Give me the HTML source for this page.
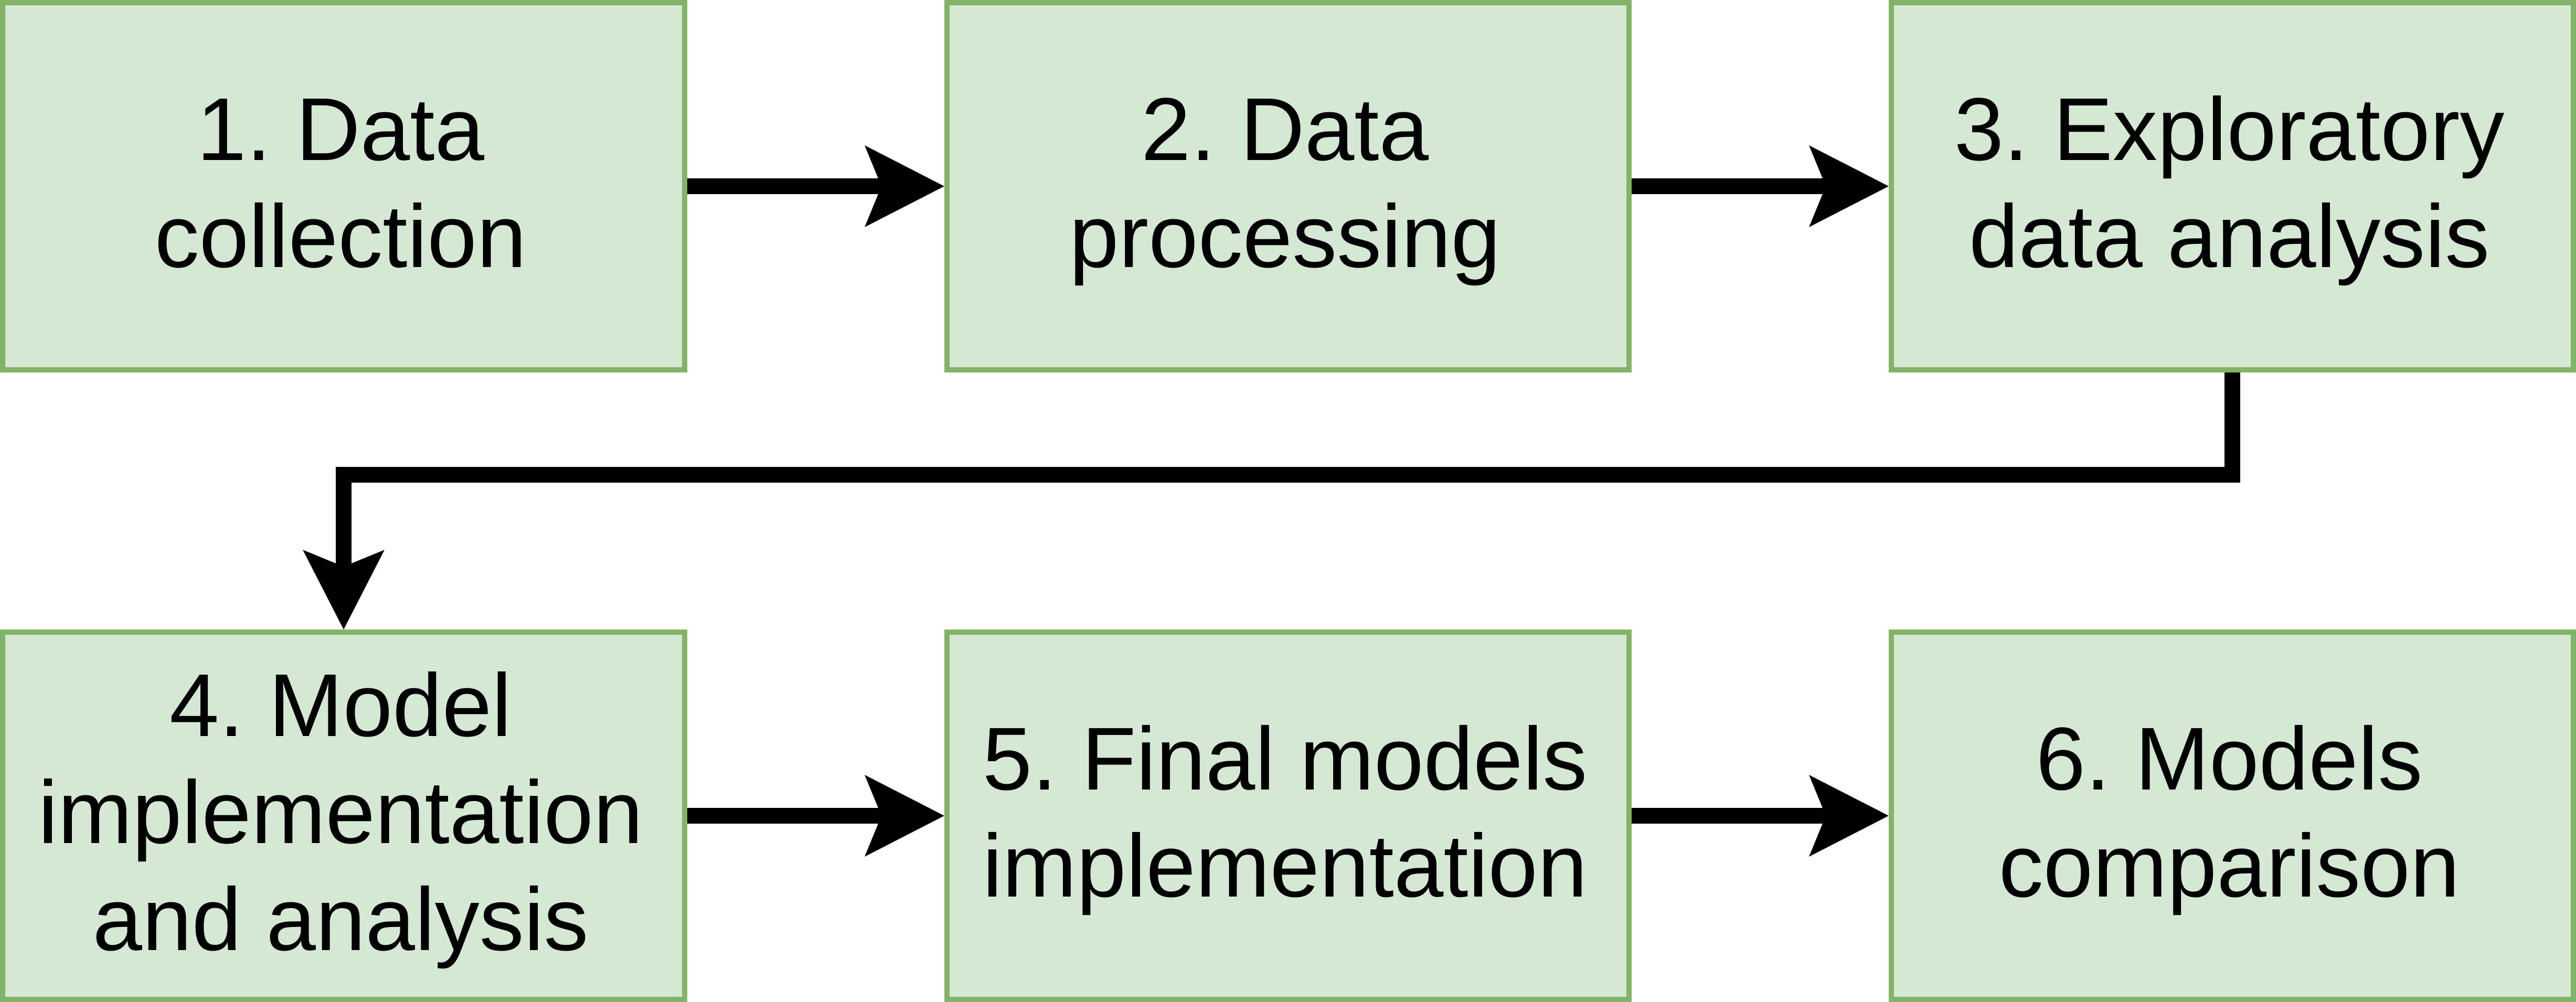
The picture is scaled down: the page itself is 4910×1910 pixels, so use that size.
<!DOCTYPE html>
<html><head><meta charset="utf-8"><style>
html,body{margin:0;padding:0;background:#fff;}
body{width:4910px;height:1910px;position:relative;overflow:hidden;font-family:"Liberation Sans",sans-serif;}
.b{position:absolute;box-sizing:border-box;width:1310px;height:710px;background:#d5e8d4;border:10px solid #82b366;display:flex;align-items:center;justify-content:center;text-align:center;font-size:170px;line-height:204px;color:#000;padding:0 12px 12px 0;}
svg{position:absolute;left:0;top:0;}
</style></head><body>
<div class="b" style="left:0;top:0">1. Data<br>collection</div>
<div class="b" style="left:1800px;top:0">2. Data<br>processing</div>
<div class="b" style="left:3600px;top:0">3. Exploratory<br>data analysis</div>
<div class="b" style="left:0;top:1200px">4. Model<br>implementation<br>and analysis</div>
<div class="b" style="left:1800px;top:1200px">5. Final models<br>implementation</div>
<div class="b" style="left:3600px;top:1200px">6. Models<br>comparison</div>
<svg width="4910" height="1910">
<g stroke="#000" stroke-width="30" fill="none">
<line x1="1310" y1="355" x2="1690" y2="355"/>
<line x1="3110" y1="355" x2="3490" y2="355"/>
<line x1="1310" y1="1555" x2="1690" y2="1555"/>
<line x1="3110" y1="1555" x2="3490" y2="1555"/>
<polyline points="4255,710 4255,905 655,905 655,1090" stroke-linejoin="miter"/>
</g>
<g fill="#000">
<polygon points="1800,355 1648,277 1680,355 1648,433"/>
<polygon points="3600,355 3448,277 3480,355 3448,433"/>
<polygon points="1800,1555 1648,1477 1680,1555 1648,1633"/>
<polygon points="3600,1555 3448,1477 3480,1555 3448,1633"/>
<polygon points="655,1200 577,1048 655,1080 733,1048"/>
</g>
</svg>
</body></html>
